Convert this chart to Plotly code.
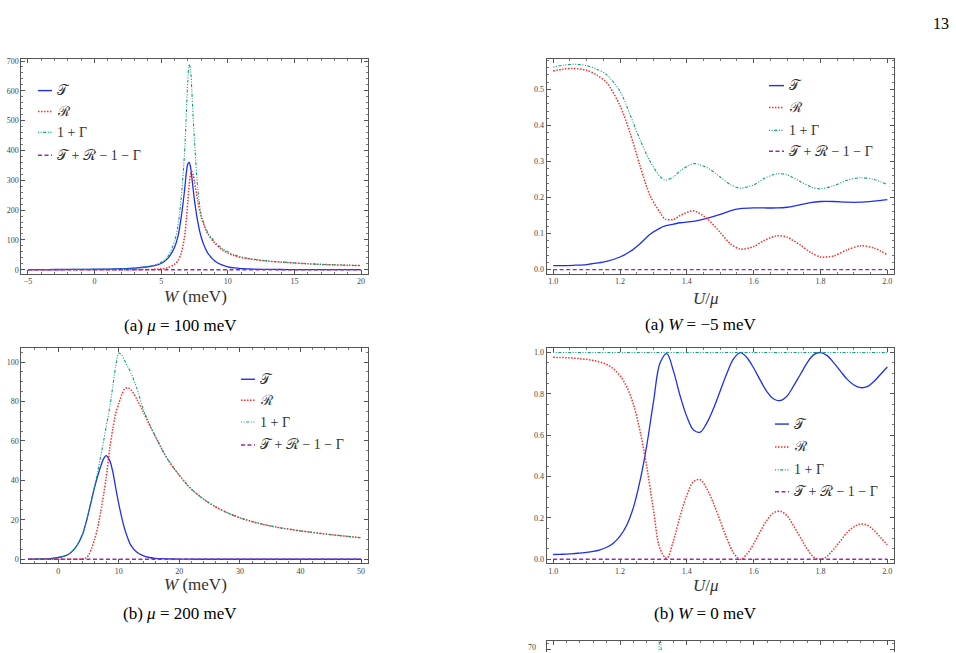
import plotly.graph_objects as go

# ---------------- data ----------------
# (a) mu = 100 meV
W1 = [-5, -4, -3, -2, -1, 0, 1, 2, 3, 4, 4.5, 5, 5.5, 6, 6.25, 6.5, 6.75, 6.9, 7.0, 7.1,
      7.2, 7.3, 7.4, 7.5, 7.75, 8, 8.25, 8.5, 9, 9.5, 10, 10.5, 11, 12, 13, 14, 15, 16, 17, 18, 19, 20]
T1 = [0.5, 0.6, 0.8, 1.0, 1.3, 1.7, 2.3, 3.5, 5.5, 10, 14, 21, 38, 75, 110, 175, 265, 330, 355, 360,
      345, 310, 270, 232, 160, 110, 78, 56, 30, 17, 10, 6, 4, 2, 1.2, 0.8, 0.6, 0.5, 0.4, 0.4, 0.3, 0.3]
R1 = [0, 0, 0, 0, 0, 0, 0, 0.1, 0.2, 0.8, 1.5, 3, 7, 18, 30, 55, 110, 175, 230, 285,
      320, 330, 318, 295, 230, 178, 145, 120, 90, 70, 56, 47, 41, 34, 29, 25.5, 22.5, 20, 18, 16.5, 15, 14]
G1 = [0.5, 0.6, 0.8, 1.0, 1.3, 1.7, 2.3, 3.6, 5.7, 11, 16, 25, 45, 95, 145, 240, 390, 540, 635, 690,
      672, 600, 510, 430, 270, 185, 150, 125, 95, 74, 60, 50, 43, 35, 29.5, 26, 23, 20, 18, 16.5, 15, 14]
Z1_x = [-5, 20]
Z1 = [0, 0]

# (a) W = -5 meV
U2 = [1.0, 1.03, 1.06, 1.1, 1.13, 1.16, 1.2, 1.23, 1.26, 1.29, 1.32, 1.335, 1.36, 1.38, 1.42, 1.46,
      1.5, 1.53, 1.56, 1.6, 1.63, 1.67, 1.7, 1.74, 1.77, 1.8, 1.84, 1.88, 1.92, 1.96, 2.0]
T2 = [0.011, 0.011, 0.012, 0.014, 0.018, 0.023, 0.035, 0.05, 0.072, 0.098, 0.115, 0.121, 0.126, 0.13,
      0.134, 0.142, 0.153, 0.163, 0.169, 0.171, 0.171, 0.171, 0.173, 0.18, 0.186, 0.189, 0.189, 0.187,
      0.187, 0.19, 0.194]
R2 = [0.551, 0.556, 0.558, 0.553, 0.54, 0.519, 0.455, 0.38, 0.288, 0.205, 0.158, 0.14, 0.139, 0.15,
      0.163, 0.142, 0.103, 0.072, 0.057, 0.064, 0.08, 0.094, 0.09, 0.068, 0.048, 0.035, 0.038, 0.055,
      0.066, 0.06, 0.041]
G2 = [0.562, 0.567, 0.570, 0.566, 0.556, 0.541, 0.495, 0.43, 0.36, 0.3, 0.258, 0.248, 0.257, 0.274,
      0.294, 0.283, 0.257, 0.236, 0.226, 0.235, 0.252, 0.266, 0.263, 0.244, 0.230, 0.224, 0.233, 0.248,
      0.255, 0.250, 0.236]
Z2_x = [1.0, 2.0]
Z2 = [0, 0]

# (b) mu = 200 meV
W3 = [-5, -3, -1, 0, 1, 2, 3, 4, 4.5, 5, 5.5, 6, 6.5, 7, 7.5, 7.9, 8.5, 9, 9.5, 10, 10.5, 11, 11.5,
      12, 13, 14, 15, 16, 17, 18, 20, 22, 24, 26, 28, 30, 33, 36, 40, 45, 50]
T3 = [0.1, 0.2, 0.5, 0.9, 1.6, 3.2, 6.5, 12.5, 17.5, 23.5, 30, 36.5, 42, 47, 51, 52.5, 50, 44.5, 36, 28,
      21, 15, 10.5, 7, 3.5, 1.8, 0.9, 0.5, 0.3, 0.2, 0.1, 0.05, 0, 0, 0, 0, 0, 0, 0, 0, 0]
R3 = [0, 0, 0, 0, 0, 0, 0, 0.2, 0.6, 2, 5.5, 10, 16, 24, 33, 41, 56, 66, 74, 79,
      83.5, 86.5, 87, 86, 81, 75, 68.5, 62.5, 56.5, 51, 42.5, 35.5, 30.5, 26.5, 23.5, 21, 18.3, 16.3,
      14.4, 12.5, 10.9]
G3 = [0.1, 0.2, 0.5, 0.9, 1.6, 3.2, 6.5, 12.5, 17.5, 24, 30.5, 37, 44, 52, 60, 67, 77, 87.5, 98, 104.5,
      103.5, 100.5, 97.5, 94.5, 86.5, 76.5, 69, 62.5, 56.5, 51, 42.5, 35.5, 30.5, 26.5, 23.5, 21, 18.3,
      16.3, 14.4, 12.5, 10.9]
Z3_x = [-5, 50]
Z3 = [0, 0]

# (b) W = 0 meV
U4 = [1.00, 1.02, 1.04, 1.06, 1.08, 1.10, 1.12, 1.14, 1.16, 1.18, 1.20, 1.22, 1.24, 1.26, 1.28, 1.30,
      1.32, 1.34, 1.36, 1.38, 1.40, 1.42, 1.44, 1.46, 1.48, 1.50, 1.52, 1.54, 1.56, 1.58, 1.60, 1.62,
      1.64, 1.66, 1.68, 1.70, 1.72, 1.74, 1.76, 1.78, 1.80, 1.82, 1.84, 1.86, 1.88, 1.90, 1.92, 1.94,
      1.96, 1.98, 2.00]
T4 = [0.023, 0.024, 0.025, 0.027, 0.030, 0.033, 0.038, 0.046, 0.058, 0.078, 0.112, 0.165, 0.25, 0.38,
      0.55, 0.76, 0.95, 0.995, 0.91, 0.79, 0.69, 0.625, 0.615, 0.66, 0.73, 0.815, 0.90, 0.97, 1.0,
      0.975, 0.925, 0.865, 0.81, 0.775, 0.768, 0.79, 0.84, 0.895, 0.95, 0.99, 1.0, 0.985, 0.95, 0.91,
      0.87, 0.843, 0.83, 0.835, 0.86, 0.895, 0.93]
R4 = [0.977, 0.976, 0.975, 0.973, 0.970, 0.967, 0.962, 0.954, 0.942, 0.922, 0.888, 0.835, 0.75, 0.62,
      0.45, 0.24, 0.05, 0.005, 0.09, 0.21, 0.31, 0.375, 0.385, 0.34, 0.27, 0.185, 0.10, 0.03, 0.0,
      0.025, 0.075, 0.135, 0.19, 0.225, 0.232, 0.21, 0.16, 0.105, 0.05, 0.01, 0.0, 0.015, 0.05, 0.09,
      0.13, 0.157, 0.17, 0.165, 0.14, 0.105, 0.07]
G4_x = [1.0, 2.0]
G4 = [1.0, 1.0]
Z4_x = [1.0, 2.0]
Z4 = [0, 0]

# (c) partially visible panel at the page bottom
W5 = [2.7, 2.9, 3.0, 3.1, 3.3]
G5 = [30, 68, 76, 68, 30]

# ---------------- styles ----------------
BLUE = "#1f2ff0"
RED = "#ff2a2a"
GREEN = "#0aa07a"
PURPLE = "#9a2aa8"
DOT = "1.5px,1.5px"
DASHDOT = "1px,1.6px,1px,1.6px,3px,1.6px"
DASH = "4px,2.5px"
SERIF = "Liberation Serif, Times New Roman, Times, serif"

W, H = 956, 653


def px(x):
    return x / W


def py(y):
    return 1 - y / H


fig = go.Figure()


def add(xs, ys, n, color, dash, width, smoothing=0.8):
    fig.add_trace(go.Scatter(
        x=xs, y=ys, mode="lines",
        line=dict(color=color, dash=dash, width=width, shape="spline", smoothing=smoothing),
        xaxis="x" if n == 1 else f"x{n}", yaxis="y" if n == 1 else f"y{n}",
        showlegend=False, hoverinfo="skip"))


add(W1, T1, 1, BLUE, "solid", 1.3)
add(W1, R1, 1, RED, DOT, 1.5)
add(W1, G1, 1, GREEN, DASHDOT, 1.1)
add(Z1_x, Z1, 1, PURPLE, DASH, 1.3)

add(U2, T2, 2, BLUE, "solid", 1.3)
add(U2, R2, 2, RED, DOT, 1.5)
add(U2, G2, 2, GREEN, DASHDOT, 1.1)
add(Z2_x, Z2, 2, PURPLE, DASH, 1.3)

add(W3, T3, 3, BLUE, "solid", 1.3)
add(W3, R3, 3, RED, DOT, 1.5)
add(W3, G3, 3, GREEN, DASHDOT, 1.1)
add(Z3_x, Z3, 3, PURPLE, DASH, 1.3)

add(U4, T4, 4, BLUE, "solid", 1.3, 1.0)
add(U4, R4, 4, RED, DOT, 1.5, 1.0)
add(G4_x, G4, 4, GREEN, DASHDOT, 1.1)
add(Z4_x, Z4, 4, PURPLE, DASH, 1.3)

add(W5, G5, 5, GREEN, DASHDOT, 1.1)

FRAME = "#555555"
TICKFONT = dict(family=SERIF, size=8, color="#444444")


def axis(domain, rng, dtick, minor_dtick, fmt=None, **kw):
    d = dict(domain=domain, range=rng, dtick=dtick, tick0=0, tickmode="linear",
             showline=True, linecolor=FRAME, linewidth=1, mirror="allticks",
             ticks="inside", ticklen=4, tickwidth=0.8, tickcolor=FRAME,
             showgrid=False, zeroline=False, tickfont=TICKFONT,
             minor=dict(ticks="inside", ticklen=2, tickcolor="#777777", dtick=minor_dtick,
                        tick0=0, showgrid=False))
    if fmt:
        d["tickformat"] = fmt
    d.update(kw)
    return d


XL = [px(21.3), px(367.7)]
XR = [px(546.5), px(894.0)]
YT = [py(273), py(57)]
YB = [py(564), py(348)]

layout = dict(
    width=W, height=H, margin=dict(l=0, r=0, t=0, b=0),
    paper_bgcolor="white", plot_bgcolor="white", showlegend=False,
    xaxis=axis(XL, [-5.5, 20.5], 5, 1, anchor="y"),
    yaxis=axis(YT, [-13.4, 707.6], 100, 20, anchor="x"),
    xaxis2=axis(XR, [0.98, 2.02], 0.2, 0.05, ".1f", anchor="y2"),
    yaxis2=axis(YT, [-0.0115, 0.585], 0.1, 0.02, ".1f", anchor="x2"),
    xaxis3=axis(XL, [-6.1, 51.1], 10, 2, anchor="y3"),
    yaxis3=axis(YB, [-2.1, 106.9], 20, 5, anchor="x3"),
    xaxis4=axis(XR, [0.98, 2.02], 0.2, 0.05, ".1f", anchor="y4"),
    yaxis4=axis(YB, [-0.02, 1.02], 0.2, 0.05, ".1f", anchor="x4"),
    xaxis5=axis(XR, [-5.5, 20.5], 5, 1, anchor="y5", side="top", mirror=False,
                showticklabels=False),
    yaxis5=axis([0, py(641.7)], [69.0, 72.8], 10, 2, anchor="x5", showticklabels=False),
)
fig.update_layout(**layout)

annotations = []
shapes = []


def text(x, y, s, size=15, color="black", xanchor="center"):
    annotations.append(dict(x=px(x), y=py(y), xref="paper", yref="paper", text=s,
                            showarrow=False, xanchor=xanchor, yanchor="middle",
                            font=dict(family=SERIF, size=size, color=color)))


# axis titles
text(195, 296, "<i>W</i> (meV)", 17, "#333333")
text(706, 298, "<i>U</i>/<i>μ</i>", 17, "#333333")
text(195, 585, "<i>W</i> (meV)", 17, "#333333")
text(706, 586, "<i>U</i>/<i>μ</i>", 17, "#333333")

# captions
text(180, 325, "(a) <i>μ</i> = 100 meV", 17)
text(700, 324, "(a) <i>W</i> = −5 meV", 17)
text(180, 614, "(b) <i>μ</i> = 200 meV", 17)
text(705, 614, "(b) <i>W</i> = 0 meV", 17)

# page number
text(941, 22, "13", 16)

# tick label of the partially visible panel
text(538, 648, "70", 8, "#444444", "right")

LEG_LABELS = ["𝒯", "ℛ", "1 + Γ", "𝒯 + ℛ − 1 − Γ"]
LEG_STYLES = [(BLUE, "solid", 1.4), (RED, DOT, 1.5), (GREEN, DASHDOT, 1.1), (PURPLE, DASH, 1.4)]


def legend(x0, x1, ys):
    for lab, (c, d, w), y in zip(LEG_LABELS, LEG_STYLES, ys):
        shapes.append(dict(type="line", xref="paper", yref="paper", x0=px(x0), x1=px(x1),
                           y0=py(y), y1=py(y), line=dict(color=c, dash=d, width=w)))
        text(x1 + 3, y, lab, 14, "#333333", "left")


legend(38, 52, [89, 110, 131, 154])
legend(769, 784, [84, 106, 129, 150])
legend(241, 255, [379, 400, 422, 445])
legend(775, 789, [424, 447, 470, 492])

fig.update_layout(annotations=annotations, shapes=shapes)
fig.write_html("out.html")
